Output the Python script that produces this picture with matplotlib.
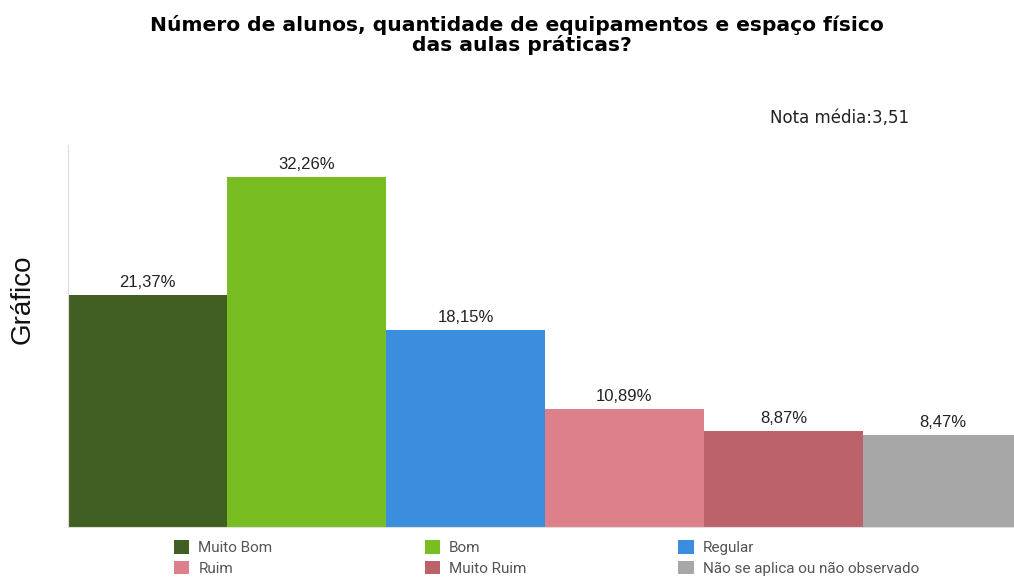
import matplotlib.pyplot as plt
from matplotlib.patches import Patch

# dados
categorias = ['Muito Bom', 'Bom', 'Regular', 'Ruim', 'Muito Ruim', 'Não se aplica ou não observado']
valores = [21.37, 32.26, 18.15, 10.89, 8.87, 8.47]
rotulos = ['21,37%', '32,26%', '18,15%', '10,89%', '8,87%', '8,47%']
cores = ['#415f22', '#78bd22', '#3b8ede', '#de808c', '#bb626b', '#a7a7a7']

plt.rcParams['font.family'] = ['Liberation Sans', 'DejaVu Sans']

fig = plt.figure(figsize=(10.14, 5.78), dpi=100)
ax = fig.add_axes([0.067, 0.088, 0.933, 0.661])

x = list(range(len(valores)))
ax.bar(x, valores, width=1.0, color=cores, edgecolor='none')
for xi, v, r in zip(x, valores, rotulos):
    ax.text(xi, v + 0.45, r, ha='center', va='bottom', fontsize=12, color='#222222')

ax.set_xlim(-0.5, 5.45)
ax.set_ylim(0, 35.2)
ax.set_xticks([])
ax.set_yticks([])
for s in ['top', 'right']:
    ax.spines[s].set_visible(False)
ax.spines['left'].set_color('#dddddd')
ax.spines['bottom'].set_color('#dddddd')

fig.text(0.022, 0.483, 'Gráfico', rotation=90, ha='center', va='center', fontsize=20, color='#111111')

fig.text(0.51, 0.957, 'Número de alunos, quantidade de equipamentos e espaço físico',
         ha='center', va='center', fontsize=14.6, fontweight='bold', family=['DejaVu Sans'])
fig.text(0.515, 0.922, 'das aulas práticas?',
         ha='center', va='center', fontsize=14.6, fontweight='bold', family=['DejaVu Sans'])
fig.text(0.897, 0.795, 'Nota média:3,51', ha='right', va='center', fontsize=12, color='#222222',
         family=['DejaVu Sans'])

# legenda (ordem por linhas)
ordem = [0, 3, 1, 4, 2, 5]
handles = [Patch(facecolor=cores[i], label=categorias[i]) for i in ordem]
fig.legend(handles=handles, ncol=3, loc='lower left', bbox_to_anchor=(0.158, -0.02),
           frameon=False, handlelength=1.0, handleheight=1.0,
           handletextpad=0.6, columnspacing=9.95, labelspacing=0.38,
           prop={'family': ['Roboto', 'DejaVu Sans'], 'size': 11},
           labelcolor='#555555')

fig.savefig('out.png')
